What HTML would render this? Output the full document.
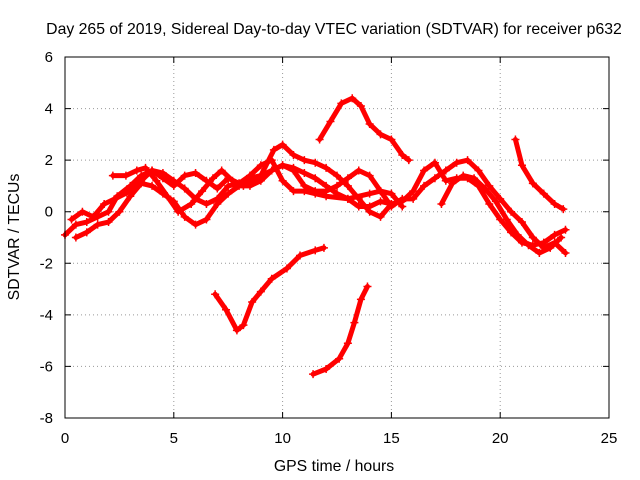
<!DOCTYPE html>
<html><head><meta charset="utf-8"><style>
body{margin:0;background:#fff}
svg{display:block;font-family:"Liberation Sans",sans-serif}
</style></head><body>
<svg id="chart" width="640" height="480">
<rect width="640" height="480" fill="#fff"/>
<text x="334" y="34" font-size="15.8" text-anchor="middle">Day 265 of 2019, Sidereal Day-to-day VTEC variation (SDTVAR) for receiver p632</text>
<g id="grid"></g>
<g id="axes"></g>
<g id="series"></g>
<rect x="65" y="57" width="544" height="361" fill="none" stroke="#000" stroke-width="1"/>
<text x="334" y="471" font-size="15.8" text-anchor="middle">GPS time / hours</text>
<text x="19" y="237" font-size="15.8" text-anchor="middle" transform="rotate(-90 19 237)">SDTVAR / TECUs</text>
</svg>
<script>
const xTicks=[0,5,10,15,20,25];
const yTicks=[-8,-6,-4,-2,0,2,4,6];
const arcTop=[[11.7,2.8],[12.2,3.5],[12.7,4.2],[13.2,4.4],[13.6,4.1],[14.0,3.4],[14.5,3.0],[15.0,2.8],[15.5,2.2],[15.8,2.0]];
const arcV=[[6.9,-3.2],[7.4,-3.8],[7.9,-4.6],[8.2,-4.4],[8.6,-3.5],[9.0,-3.1],[9.5,-2.6],[10.2,-2.2],[10.8,-1.7],[11.5,-1.5],[11.9,-1.4]];
const arcS=[[11.4,-6.3],[12.0,-6.1],[12.6,-5.7],[13.0,-5.1],[13.3,-4.3],[13.6,-3.4],[13.9,-2.9]];
const arcRight=[[20.7,2.8],[21.0,1.8],[21.5,1.1],[22.0,0.7],[22.5,0.3],[22.9,0.1]];
const trackA=[[0,-0.9],[0.5,-0.5],[1,-0.4],[1.5,-0.2],[2,0],[2.4,0.6],[3,1.0],[3.5,1.4],[4,1.6],[4.5,1.5],[5,1.2],[5.5,0.9],[6,0.5],[6.5,0.3],[7,0.5],[7.5,1.0],[8,1.1],[8.5,1.3],[9,1.4],[9.5,1.6],[10,1.8],[10.5,1.7],[11,1.5],[11.5,1.3],[12,1.0],[12.5,0.7],[13,0.5],[13.5,0.2],[14,0.2],[14.5,0.4],[15,0.3]];
const trackB=[[0.5,-1],[1,-0.8],[1.5,-0.5],[2,-0.4],[2.5,0],[3,0.6],[3.5,1.1],[4,1.0],[4.5,0.7],[5,0.4],[5.5,-0.2],[6,-0.5],[6.5,-0.3],[7,0.3],[7.5,0.7],[8,1.0],[8.5,1.0],[9,1.2],[9.5,1.6],[10,1.8],[10.5,1.6],[11,1.0],[11.5,0.8],[12,0.8],[12.5,1.0],[13,1.3],[13.5,1.6],[14,1.4],[14.5,0.8],[15,0.2],[15.5,0.5],[16,0.5],[16.5,1],[17,1.3],[17.5,1.6],[18,1.9],[18.5,2.0],[19,1.6],[19.5,1.0],[20,0.5],[20.5,0],[21,-0.4],[21.5,-1],[22,-1.4],[22.5,-1.2],[23,-1.6]];
const trackC=[[2.2,1.4],[2.8,1.4],[3.3,1.6],[3.7,1.7],[4.2,1.2],[4.7,0.6],[5.2,0.0],[5.8,0.3],[6.3,0.8],[6.8,1.3],[7.2,1.6],[7.7,1.2],[8.2,1.0],[9,1.4],[9.6,2.4],[10,2.6],[10.5,2.2],[11,2.0],[11.5,1.9],[12,1.7],[12.5,1.4],[13,1.0],[13.5,0.5],[14,0.0],[14.5,-0.2],[15,0.3],[15.5,0.4],[16,0.8],[16.5,1.6],[17,1.9],[17.5,1.2],[18,1.3],[18.5,1.3],[19,1.0],[19.5,0.3],[20,-0.3],[20.5,-0.8],[21,-1.2],[21.5,-1.3],[22,-1.2],[22.5,-0.9],[23,-0.7]];
const trackD=[[0.3,-0.3],[0.8,0],[1.3,-0.2],[1.8,0.3],[2.3,0.5],[3,0.8],[3.5,1.2],[4,1.6],[4.5,1.3],[5,1.0],[5.5,1.4],[6,1.5],[6.5,1.2],[7,0.9],[7.5,1.3],[8,1.1],[8.5,1.4],[9,1.8],[9.5,2.0],[10,1.2],[10.5,0.8],[11,0.8],[11.5,0.7],[12,0.6],[13,0.5],[14,0.7],[14.5,0.8],[15,0.7],[15.5,0.2]];
const trackE=[[17.3,0.3],[17.8,1.1],[18.3,1.4],[18.8,1.3],[19.3,0.9],[19.8,0.4],[20.3,-0.3],[20.8,-0.9],[21.3,-1.3],[21.8,-1.6],[22.3,-1.4],[22.8,-1.0]];
const allSeries=[["arc-top",arcTop],["arc-v",arcV],["arc-s",arcS],["arc-right",arcRight],["track-a",trackA],["track-b",trackB],["track-c",trackC],["track-d",trackD],["track-e",trackE]];

const NS="http://www.w3.org/2000/svg";
const X0=65,X1=609,Y0=418,Y1=57;
function xs(v){return X0+(v-0)/(25-0)*(X1-X0);}
function ys(v){return Y0-(v+8)/(6+8)*(Y0-Y1);}
function mk(tag,attrs,parent){const e=document.createElementNS(NS,tag);for(const k in attrs)e.setAttribute(k,attrs[k]);parent.appendChild(e);return e;}
const grid=document.getElementById('grid'),axes=document.getElementById('axes'),ser=document.getElementById('series');
xTicks.forEach(t=>{
  const x=xs(t);
  if(t>0&&t<25){const l=mk('line',{x1:x,x2:x,y1:Y1,y2:Y0,stroke:'#999','stroke-dasharray':'1,3'},grid);
  
  }
  const tk=mk('path',{d:`M${x},${Y0}v-6M${x},${Y1}v6`,stroke:'#000'},axes);
  
  
  const tx=mk('text',{x:x,y:Y0+25,'font-size':15,'text-anchor':'middle'},axes);tx.textContent=t;
  
  
});
yTicks.forEach(t=>{
  const y=ys(t);
  if(t>-8&&t<6){const l=mk('line',{x1:X0,x2:X1,y1:y,y2:y,stroke:'#999','stroke-dasharray':'1,3'},grid);
  
  }
  const tk=mk('path',{d:`M${X0},${y}h6M${X1},${y}h-6`,stroke:'#000'},axes);
  
  
  const tx=mk('text',{x:X0-12,y:y+5,'font-size':15,'text-anchor':'end'},axes);tx.textContent=t;
  
  
});
allSeries.forEach(([name,pts])=>{
  const g=mk('g',{},ser);
  
  
  const pl=mk('polyline',{points:pts.map(p=>xs(p[0])+','+ys(p[1])).join(' '),fill:'none',stroke:'#f00','stroke-width':5,'stroke-linejoin':'round','stroke-linecap':'round'},g);
  
  
  pts.forEach(p=>{const x=xs(p[0]),y=ys(p[1]);
    const m=mk('path',{d:`M${x-4},${y}h8M${x},${y-4}v8`,stroke:'#f00','stroke-width':1.5},g);
    
    });
});
</script>
</body></html>
